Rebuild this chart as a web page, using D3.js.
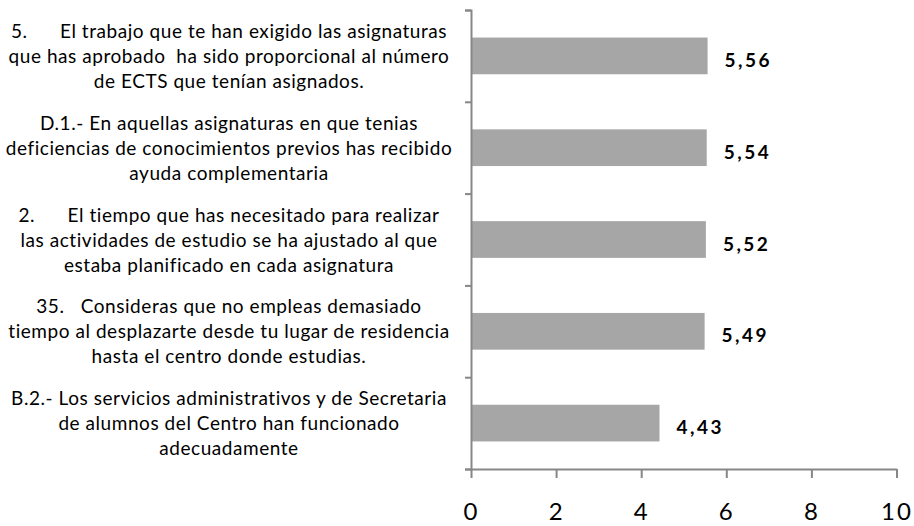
<!DOCTYPE html>
<html lang='es'>
<head>
<meta charset='utf8'>
<title>Encuesta</title>
<script type="text/javascript" src="https://cdn.jsdelivr.net/npm/d3@7"></script>
<style>
  body { margin: 0; background: #fff; }
  text { font-family: Lato, 'Open Sans', sans-serif; }
</style>
</head>
<body>
<svg id='chart' width='914' height='526'></svg>
<script type="text/javascript">
    // preguntas (saltos de linea como en el original)
    var preguntas = [
        '5.      El trabajo que te han exigido las asignaturas\nque has aprobado  ha sido proporcional al número\nde ECTS que tenían asignados.',
        'D.1.- En aquellas asignaturas en que tenias\ndeficiencias de conocimientos previos has recibido\nayuda complementaria',
        '2.      El tiempo que has necesitado para realizar\nlas actividades de estudio se ha ajustado al que\nestaba planificado en cada asignatura',
        '35.   Consideras que no empleas demasiado\ntiempo al desplazarte desde tu lugar de residencia\nhasta el centro donde estudias.',
        'B.2.- Los servicios administrativos y de Secretaria\nde alumnos del Centro han funcionado\nadecuadamente'
    ];
    var medias = [5.56, 5.54, 5.52, 5.49, 4.43];
    var ticksX = [0, 2, 4, 6, 8, 10];

    var svg = d3.select('#chart');
    var grey = '#878787';

    var x = d3.scaleLinear().domain([0, 10]).range([471, 896.5]);
    var y = d3.scaleBand().domain(preguntas).range([10, 469])
        .paddingInner(0.6).paddingOuter(0.3);
    var yEdges = d3.scaleLinear().domain([0, preguntas.length]).range([10, 469]);

    // barras
    svg.selectAll('rect.bar')
        .data(preguntas)
        .enter().append('rect')
        .attr('class', 'bar')
        .attr('x', x(0))
        .attr('y', function(d) { return y(d); })
        .attr('width', function(d, i) { return x(medias[i]) - x(0); })
        .attr('height', y.bandwidth())
        .attr('fill', '#a6a6a6');

    // eje vertical
    var gy = svg.append('g')
        .attr('transform', 'translate(' + x(0) + ',0)')
        .call(d3.axisLeft(yEdges).ticks(preguntas.length).tickSize(6).tickFormat(''));
    gy.select('.domain').attr('stroke', grey).attr('stroke-width', 2);
    gy.selectAll('.tick line').attr('stroke', grey).attr('stroke-width', 2);

    // eje horizontal
    var gx = svg.append('g')
        .attr('transform', 'translate(0,469)')
        .call(d3.axisBottom(x).tickValues(ticksX).tickSize(9).tickSizeOuter(0).tickPadding(25)
            .tickFormat(d3.format('d')));
    gx.select('.domain').attr('stroke', grey).attr('stroke-width', 2);
    gx.selectAll('.tick line').attr('stroke', grey).attr('stroke-width', 2);
    gx.selectAll('.tick text')
        .attr('fill', '#000')
        .style('font-size', '24px')
        .style('letter-spacing', '2px');

    // etiquetas de valor
    svg.selectAll('text.valor')
        .data(medias)
        .enter().append('text')
        .attr('class', 'valor')
        .attr('x', function(d) { return x(d) + 17; })
        .attr('y', function(d, i) { return y(preguntas[i]) + y.bandwidth() / 2 + 11; })
        .style('font-size', '19px')
        .style('font-weight', 'bold')
        .style('letter-spacing', '2.5px')
        .text(function(d) { return d3.format('.2f')(d).replace('.', ','); });

    // etiquetas de categoria
    var lineH = 25;
    svg.selectAll('text.cat')
        .data(preguntas)
        .enter().append('text')
        .attr('class', 'cat')
        .attr('text-anchor', 'middle')
        .style('font-size', '19px')
        .style('letter-spacing', '0.55px')
        .style('white-space', 'pre')
        .each(function(d) {
            var lines = d.split('\n');
            var cy = y(d) + y.bandwidth() / 2;
            var t = d3.select(this);
            lines.forEach(function(l, k) {
                t.append('tspan')
                    .attr('x', 229)
                    .attr('y', cy + 7 + (k - (lines.length - 1) / 2) * lineH)
                    .text(l);
            });
        });
</script>
</body>
</html>
